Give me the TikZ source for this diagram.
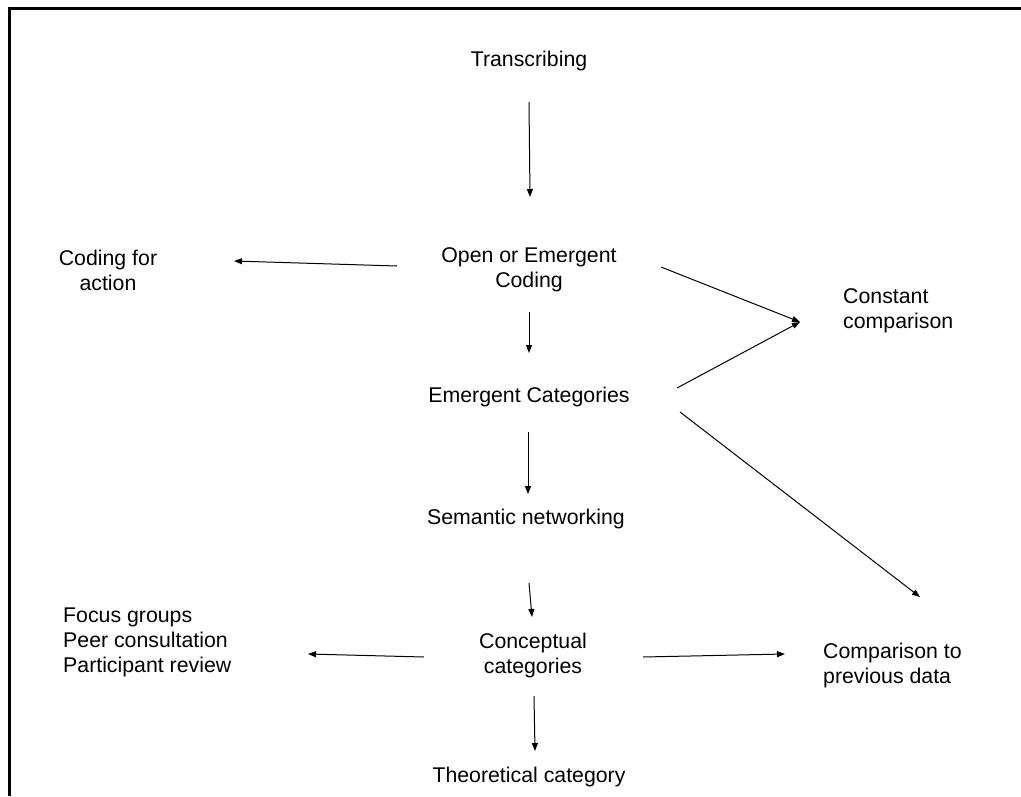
\documentclass[tikz,border=0pt]{standalone}
\usepackage{fontspec}
\setmainfont{Liberation Sans}
\usetikzlibrary{arrows.meta,calc}
\begin{document}
\begin{tikzpicture}[x=1pt,y=-1pt,
  lbl/.style={inner sep=0pt,font=\fontsize{21.3}{25}\selectfont},
  ctr/.style={lbl,align=center,anchor=base},
  lft/.style={lbl,align=left,anchor=base west},
  arr/.style={line width=1pt,-{Triangle[length=8pt,width=6pt]}},
  frame/.style={line width=2.2pt,black}]
\useasboundingbox (0,0) rectangle (1021,796);
\draw[frame] (9.5,796) -- (9.5,8.5) -- (1021,8.5);
% base = baseline of the last line
\node[ctr] (t) at (529,66) {Transcribing};
\node[ctr] (oc) at (529,287) {Open or Emergent\\Coding};
\node[ctr] (cfa) at (108,290) {Coding for\\action};
\node[lft] (cc) at (843,328) {Constant\\comparison};
\node[ctr] (ec) at (529,402) {Emergent Categories};
\node[ctr] (sn) at (526,524) {Semantic networking};
\node[lft] (fg) at (63,672) {Focus groups\\Peer consultation\\Participant review};
\node[ctr] (cat) at (533,673) {Conceptual\\categories};
\node[lft] (cpd) at (823,683) {Comparison to\\previous data};
\node[ctr] (tc) at (529,782) {Theoretical category};
\draw[arr] ($(t.base)+(0,36)$) -- ($(oc.base)+(1,-90)$);
\draw[arr] ($(oc.base)+(-132,-21)$) -- ($(cfa.base)+(126,-29)$);
\draw[arr] ($(oc.base)+(132,-20)$) -- ($(cc.base west)+(-43,-6)$);
\draw[arr] ($(ec.base)+(148,-14)$) -- ($(cc.base west)+(-43,-6)$);
\draw[arr] ($(oc.base)+(0,25)$) -- ($(ec.base)+(0,-49)$);
\draw[arr] ($(ec.base)+(-1,30)$) -- ($(sn.base)+(2,-30)$);
\draw[arr] ($(ec.base)+(151,10)$) -- ($(cpd.base west)+(97,-86)$);
\draw[arr] ($(sn.base)+(3,59)$) -- ($(cat.base)+(-1,-56)$);
\draw[arr] ($(cat.base)+(-109,-16)$) -- ($(fg.base west)+(245,-18)$);
\draw[arr] ($(cat.base)+(110,-16)$) -- ($(cpd.base west)+(-38,-29)$);
\draw[arr] ($(cat.base)+(1,23)$) -- ($(tc.base)+(6,-31)$);
\end{tikzpicture}
\end{document}
